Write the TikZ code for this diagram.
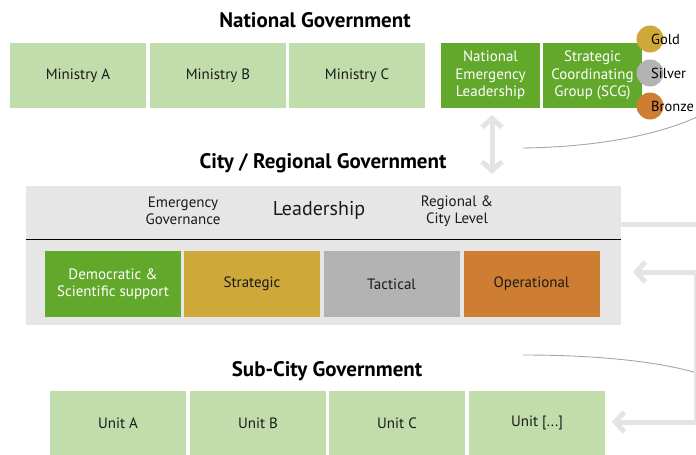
\documentclass[tikz,border=0pt]{standalone}
\usepackage{fontspec}
\setmainfont{PT Sans}
\usetikzlibrary{arrows.meta}
\definecolor{lgreen}{HTML}{C0DDAB}
\definecolor{dgreen}{HTML}{62A92B}
\definecolor{goldc}{HTML}{CFA83A}
\definecolor{silverc}{HTML}{B3B3B3}
\definecolor{bronzec}{HTML}{CE7E32}
\definecolor{panelc}{HTML}{E6E6E6}
\definecolor{connc}{HTML}{E4E4E4}
\definecolor{txt}{HTML}{1A1A1A}
\begin{document}
\begin{tikzpicture}[x=1pt,y=-1pt,
  box/.style={inner sep=0pt, minimum width=136pt, minimum height=65pt, align=center,
    font=\fontsize{15}{17.5}\selectfont, text=txt},
  lbox/.style={box, fill=lgreen},
  gbox/.style={box, fill=dgreen, text=white, minimum width=99pt},
  cbox/.style={box, minimum height=66pt},
  title/.style={font=\fontsize{21}{24}\selectfont\bfseries, text=black, inner sep=0pt},
  small/.style={font=\fontsize{15}{17.5}\selectfont, align=center, text=txt, inner sep=0pt},
  medal/.style={circle, inner sep=0pt, minimum size=27pt},
  medaltxt/.style={anchor=west, inner sep=0pt, font=\fontsize{14.5}{17}\selectfont, text=black},
  fat/.style={draw=connc, line width=5pt},
  barb/.style={fat, -{Straight Barb[length=9pt,width=20pt]}},
  dbarb/.style={fat, {Straight Barb[length=9pt,width=20pt]}-{Straight Barb[length=9pt,width=20pt]}},
  curve/.style={draw=gray!70, line width=0.9pt}
]
\useasboundingbox (0,0) rectangle (696,455);

% National government
\node[title] (natT) at (315,20) {National Government};
\node[lbox] (minA) at (78,75.5) {Ministry A};
\node[lbox] (minB) at (218,75.5) {Ministry B};
\node[lbox] (minC) at (357,75.5) {Ministry C};
\node[gbox] (nel) at (490.5,75.5) {National\\Emergency\\Leadership};
\node[gbox] (scg) at (592.5,75.5) {Strategic\\Coordinating\\Group (SCG)};

\node[medal, fill=goldc] (gold) at (650,39) {};
\node[medal, fill=silverc] (silver) at (650,73) {};
\node[medal, fill=bronzec] (bronze) at (650,106) {};
\node[medaltxt] (goldT) at (651,39) {Gold};
\node[medaltxt] (silverT) at (651,73) {Silver};
\node[medaltxt] (bronzeT) at (651,106) {Bronze};

% City / regional
\node[title] (cityT) at (323,163) {City / Regional Government};
\node[fill=panelc, inner sep=0pt, minimum width=595pt, minimum height=139pt] (panel) at (323.5,255.5) {};
\coordinate (ll) at (26,239);
\coordinate (lr) at (621,239);
\draw[black, line width=1pt] (ll) -- (lr);
\node[small] (eg) at (183,211) {Emergency\\Governance};
\node[small, font=\fontsize{20}{23}\selectfont] (lead) at (319,210) {Leadership};
\node[small] (rcl) at (457,211) {Regional \&\\City Level};

\node[cbox, fill=dgreen, text=white] (dem) at (113,284) {Democratic \&\\Scientific support};
\node[cbox, fill=goldc] (str) at (252,284) {Strategic};
\node[cbox, fill=silverc] (tac) at (391.5,284) {Tactical};
\node[cbox, fill=bronzec] (ope) at (531.5,284) {Operational};

% Sub-city
\node[title] (subT) at (327,371) {Sub-City Government};
\node[lbox, minimum height=64pt] (uA) at (118,423) {Unit A};
\node[lbox, minimum height=64pt] (uB) at (258,423) {Unit B};
\node[lbox, minimum height=64pt] (uC) at (397,423) {Unit C};
\node[lbox, minimum height=64pt] (uD) at (537,423) {Unit [...]};

% connectors
\coordinate (d1) at (492,115);
\coordinate (d2) at (492,174);
\draw[dbarb] (d1) -- (d2);

\coordinate (c1s) at (523,148);
\coordinate (c1e) at (697,117);
\draw[curve] (c1s) .. controls (600,147) and (660,134) .. (c1e);
\coordinate (c2s) at (523,355);
\coordinate (c2e) at (697,373);
\draw[curve] (c2s) .. controls (600,355) and (660,362) .. (c2e);

\coordinate (r0) at (697,224);
\draw[fat] (panel.east |- r0) -- (r0);
\coordinate (v1) at (695,272);
\coordinate (v2) at (695,422);
\coordinate (t1) at (633,272);
\coordinate (t2) at (612,422);
\draw[draw=connc, line width=1.5pt] (v1) -- (v2);
\draw[barb] (697,272) -- (t1);
\draw[barb] (697,422) -- (t2);
\end{tikzpicture}
\end{document}
